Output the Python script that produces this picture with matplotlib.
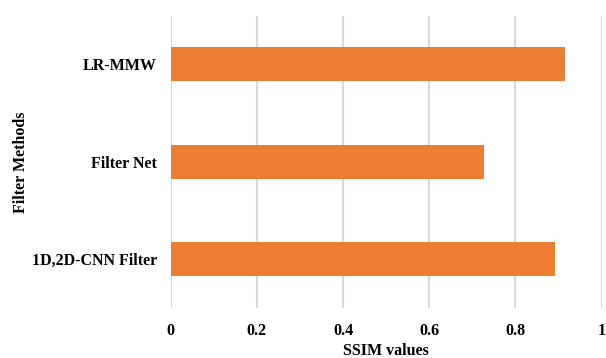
import matplotlib.pyplot as plt

# SSIM scores per filter method (bottom to top)
methods = ['1D,2D-CNN Filter', 'Filter Net', 'LR-MMW']
ssim = [0.892, 0.728, 0.916]
xticks = [0, 0.2, 0.4, 0.6, 0.8, 1]
xtick_labels = ['0', '0.2', '0.4', '0.6', '0.8', '1']

plt.rcParams['font.family'] = ['Liberation Serif', 'DejaVu Serif']
plt.rcParams['font.weight'] = 'bold'

fig = plt.figure(figsize=(6.06, 3.58), dpi=100)
ax = fig.add_axes([0.2817, 0.1397, 0.7112, 0.8165])

ax.barh(range(len(methods)), ssim, height=0.35, color='#ED7D31', zorder=3)

ax.set_xlim(0, 1)
ax.set_ylim(-0.5, len(methods) - 0.5)
ax.set_xticks(xticks)
ax.set_xticklabels(xtick_labels, fontsize=11.5, fontweight='bold')
ax.set_yticks(range(len(methods)))
ax.set_yticklabels(methods, fontsize=11.5, fontweight='bold')
ax.tick_params(axis='x', length=0, pad=11)
ax.tick_params(axis='y', length=0, pad=10)

ax.grid(axis='x', color='#d9d9d9', linewidth=1.5, zorder=0)
for s in ax.spines.values():
    s.set_visible(False)

ax.set_xlabel('SSIM values', fontsize=11.5, fontweight='bold', labelpad=2.5)
ax.set_ylabel('Filter Methods', fontsize=11.5, fontweight='bold', labelpad=1.5)

plt.savefig('out.png', dpi=100)
